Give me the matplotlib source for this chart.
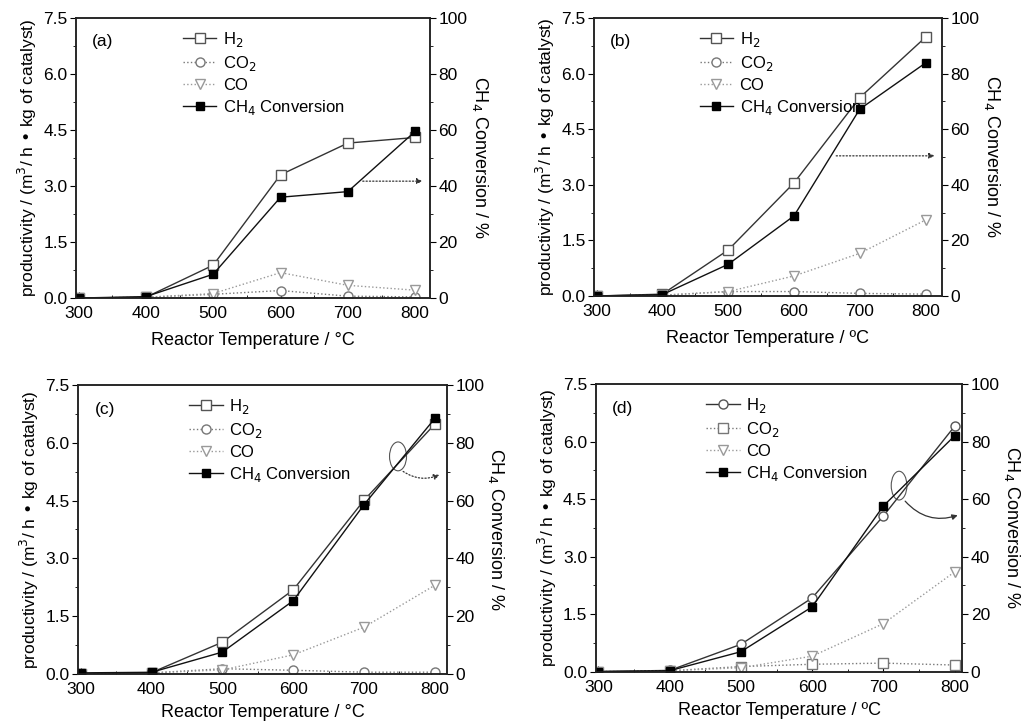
import numpy as np
import matplotlib.pyplot as plt
from matplotlib.patches import Ellipse

plt.rcParams['font.family'] = ['Liberation Sans', 'DejaVu Sans']
plt.rcParams['font.size'] = 10

temps = [300, 400, 500, 600, 700, 800]

# productivity, m3 / h kg catalyst
h2_a = [0.0, 0.02, 0.88, 3.30, 4.15, 4.30]
co2_a = [0.0, 0.02, 0.10, 0.20, 0.05, 0.03]
co_a = [0.0, 0.02, 0.12, 0.68, 0.34, 0.21]
ch4_a = [0.0, 0.5, 8.5, 36.0, 38.0, 59.5]

h2_b = [0.0, 0.05, 1.24, 3.05, 5.35, 6.98]
co2_b = [0.0, 0.02, 0.12, 0.12, 0.07, 0.05]
co_b = [0.0, 0.02, 0.12, 0.54, 1.15, 2.05]
ch4_b = [0.0, 0.5, 11.4, 28.8, 67.2, 83.8]

h2_c = [0.0, 0.03, 0.82, 2.18, 4.51, 6.49]
co2_c = [0.0, 0.02, 0.13, 0.09, 0.04, 0.04]
co_c = [0.0, 0.02, 0.10, 0.49, 1.21, 2.30]
ch4_c = [0.3, 0.5, 7.5, 25.3, 58.6, 88.5]

h2_d = [0.0, 0.03, 0.71, 1.92, 4.06, 6.40]
co2_d = [0.0, 0.02, 0.13, 0.19, 0.22, 0.17]
co_d = [0.0, 0.02, 0.10, 0.40, 1.25, 2.60]
ch4_d = [0.0, 0.3, 6.9, 22.5, 57.6, 82.0]

panels = [
    dict(tag='(a)', h2=h2_a, co2=co2_a, co=co_a, ch4=ch4_a,
         rect=[0.074, 0.5895, 0.3455, 0.3857], xmax=822, deg='°C',
         mk=('s', 'o'), xpad=8),
    dict(tag='(b)', h2=h2_b, co2=co2_b, co=co_b, ch4=ch4_b,
         rect=[0.5795, 0.5923, 0.3395, 0.383], xmax=825, deg='ºC',
         mk=('s', 'o'), xpad=8),
    dict(tag='(c)', h2=h2_c, co2=co2_c, co=co_c, ch4=ch4_c,
         rect=[0.076, 0.072, 0.360, 0.3974], xmax=817, deg='°C',
         mk=('s', 'o'), xpad=5),
    dict(tag='(d)', h2=h2_d, co2=co2_d, co=co_d, ch4=ch4_d,
         rect=[0.581, 0.075, 0.358, 0.396], xmax=811, deg='ºC',
         mk=('o', 's'), xpad=5),
]

fig = plt.figure(figsize=(10.25, 7.26), dpi=100)

axes = []
for p in panels:
    ax = fig.add_axes(p['rect'])
    ax2 = ax.twinx()
    axes.append((ax, ax2))

    l1, = ax.plot(temps, p['h2'], color='#333333', lw=1.0, ls='-',
                  marker=p['mk'][0], ms=6.5, mfc='white', mec='#555555',
                  label='H$_2$')
    l2, = ax.plot(temps, p['co2'], color='#777777', lw=1.0, ls=':',
                  marker=p['mk'][1], ms=6.5, mfc='white', mec='#777777',
                  label='CO$_2$')
    l3, = ax.plot(temps, p['co'], color='#999999', lw=1.0, ls=':',
                  marker='v', ms=6.5, mfc='white', mec='#999999',
                  label='CO')
    l4, = ax2.plot(temps, p['ch4'], color='#111111', lw=1.0, ls='-',
                   marker='s', ms=5.5, mfc='black', mec='black',
                   label='CH$_4$ Conversion')

    ax.set_xlim(296, p['xmax'])
    ax.set_ylim(0, 7.5)
    ax2.set_ylim(0, 100)
    ax.set_xticks([300, 400, 500, 600, 700, 800])
    ax.set_yticks(np.arange(0, 7.6, 1.5))
    ax.set_yticklabels(['%.1f' % v for v in np.arange(0, 7.6, 1.5)])
    ax.set_yticks(np.arange(0.75, 7.5, 1.5), minor=True)
    ax2.set_yticks([0, 20, 40, 60, 80, 100])
    ax2.set_yticks([10, 30, 50, 70, 90], minor=True)
    ax.set_xticks([350, 450, 550, 650, 750], minor=True)
    for a in (ax, ax2):
        a.tick_params(axis='y', direction='out', length=4, width=0.8,
                      labelsize=12.5, pad=2)
        a.tick_params(axis='y', which='minor', direction='out', length=2,
                      width=0.6)
        for s in a.spines.values():
            s.set_linewidth(1.1)
            s.set_color('#222222')
    ax.tick_params(axis='x', direction='in', length=4, width=0.8,
                   labelsize=12.5, pad=6)
    ax.tick_params(axis='x', which='minor', direction='in', length=2,
                   width=0.6)

    ax.set_xlabel('Reactor Temperature / ' + p['deg'], fontsize=13,
                  labelpad=p['xpad'])
    ax.set_ylabel('productivity / (m$^3$/ h • kg of catalyst)', fontsize=12.5,
                  labelpad=3)
    ax2.set_ylabel('CH$_4$ Conversion / %', fontsize=13, rotation=270,
                   labelpad=16)

    ax.text(0.045, 0.9, p['tag'], transform=ax.transAxes, fontsize=12.5)
    ax.legend(handles=[l1, l2, l3, l4], loc='upper left',
              bbox_to_anchor=(0.27, 1.0), frameon=False, fontsize=12,
              handlelength=2.0, handletextpad=0.4, labelspacing=0.3,
              borderaxespad=0.3)

# arrows that point the fitted conversion curve to the right axis
ax = axes[0][0]
ax.annotate('', xy=(815, 3.13), xytext=(718, 3.13),
            arrowprops=dict(arrowstyle='-|>', color='#333333', lw=0.9,
                            ls=':', mutation_scale=8))
ax = axes[1][0]
ax.annotate('', xy=(818, 3.78), xytext=(660, 3.78),
            arrowprops=dict(arrowstyle='-|>', color='#333333', lw=0.9,
                            ls=':', mutation_scale=8))
ax = axes[2][0]
ax.add_patch(Ellipse((748, 5.65), 24, 0.75, fill=False, ec='#555555', lw=0.8))
ax.annotate('', xy=(810, 5.2), xytext=(752, 5.3),
            arrowprops=dict(arrowstyle='-|>', color='#333333', lw=0.9,
                            ls=':', mutation_scale=8,
                            connectionstyle='arc3,rad=0.3'))
ax = axes[3][0]
ax.add_patch(Ellipse((722, 4.85), 22, 0.75, fill=False, ec='#555555', lw=0.8))
ax.annotate('', xy=(808, 4.1), xytext=(728, 4.5),
            arrowprops=dict(arrowstyle='-|>', color='#333333', lw=0.9,
                            mutation_scale=8,
                            connectionstyle='arc3,rad=0.35'))

fig.savefig('out.png', dpi=100)
